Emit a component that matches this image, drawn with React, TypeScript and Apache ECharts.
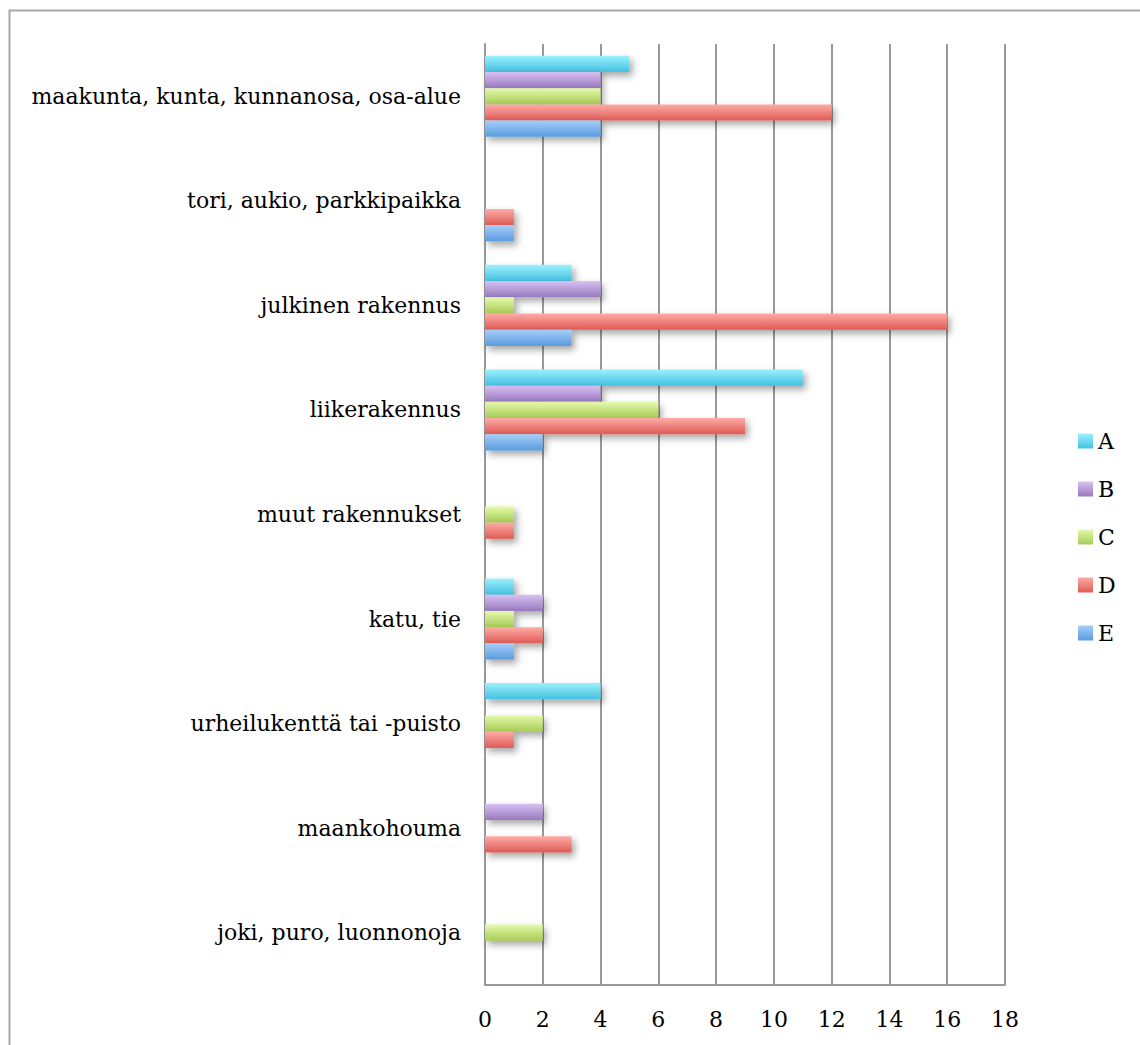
import React, { useEffect, useRef } from "react";
import * as echarts from "echarts";

const categories = [
  "maakunta, kunta, kunnanosa, osa-alue",
  "tori, aukio, parkkipaikka",
  "julkinen rakennus",
  "liikerakennus",
  "muut rakennukset",
  "katu, tie",
  "urheilukenttä tai -puisto",
  "maankohouma",
  "joki, puro, luonnonoja",
];

const seriesNames = ["A", "B", "C", "D", "E"];
const valuesA = [5, 0, 3, 11, 0, 1, 4, 0, 0];
const valuesB = [4, 0, 4, 4, 0, 2, 0, 2, 0];
const valuesC = [4, 0, 1, 6, 1, 1, 2, 0, 2];
const valuesD = [12, 1, 16, 9, 1, 2, 1, 3, 0];
const valuesE = [4, 1, 3, 2, 0, 1, 0, 0, 0];
const allValues = [valuesA, valuesB, valuesC, valuesD, valuesE];

const gradients: [string, string][] = [
  ["#9cf0fd", "#43c1e0"],
  ["#d8c0f2", "#977abf"],
  ["#e6f9ac", "#a6cc55"],
  ["#ffaba6", "#de5b55"],
  ["#a6cefb", "#5a9cde"],
];

const xTicks = { min: 0, max: 18, interval: 2 };

const FONT = "DejaVu Serif";

export default function App() {
  const ref = useRef<HTMLDivElement>(null);
  useEffect(() => {
    if (!ref.current) return;
    const chart = echarts.init(ref.current, null, { renderer: "svg" });
    const series = seriesNames.map((name, i) => ({
      name,
      type: "bar" as const,
      data: allValues[i].map((v) => (v === 0 ? null : v)),
      barGap: "0%",
      barCategoryGap: "22.5%",
      itemStyle: {
        color: new echarts.graphic.LinearGradient(0, 0, 0, 1, [
          { offset: 0, color: gradients[i][0] },
          { offset: 1, color: gradients[i][1] },
        ]),
        shadowColor: "rgba(0,0,0,0.35)",
        shadowBlur: 7,
        shadowOffsetX: 3,
        shadowOffsetY: 4,
      },
    }));
    chart.setOption({
      animation: false,
      backgroundColor: "#ffffff",
      graphic: [
        {
          type: "rect",
          left: 7,
          top: 8,
          shape: { width: 1300, height: 1200 },
          style: { fill: "none", stroke: "#a8a8a8", lineWidth: 2 },
          silent: true,
        },
      ],
      grid: { left: 485, right: 135, top: 44, bottom: 60, containLabel: false },
      legend: {
        orient: "vertical",
        left: 1073,
        top: 424,
        itemWidth: 15,
        itemHeight: 15,
        itemGap: 24,
        icon: "rect",
        data: seriesNames,
        textStyle: { fontFamily: FONT, fontSize: 22, color: "#000", lineHeight: 24 },
      },
      xAxis: {
        type: "value",
        min: xTicks.min,
        max: xTicks.max,
        interval: xTicks.interval,
        axisLine: { show: true, lineStyle: { color: "#999999", width: 2 } },
        axisTick: { show: false },
        splitLine: { show: true, lineStyle: { color: "#999999", width: 2 } },
        axisLabel: { fontFamily: FONT, fontSize: 22, color: "#000", margin: 23 },
      },
      yAxis: {
        type: "category",
        inverse: true,
        data: categories,
        axisLine: { show: true, lineStyle: { color: "#999999", width: 2 } },
        axisTick: { show: false },
        axisLabel: {
          fontFamily: FONT,
          fontSize: 22,
          color: "#000",
          margin: 24,
          padding: [6, 0, 0, 0],
        },
      },
      series,
    });
    return () => chart.dispose();
  }, []);
  return (
    <div
      ref={ref}
      style={{ position: "fixed", left: 0, top: 0, width: 1140, height: 1045 }}
    />
  );
}
